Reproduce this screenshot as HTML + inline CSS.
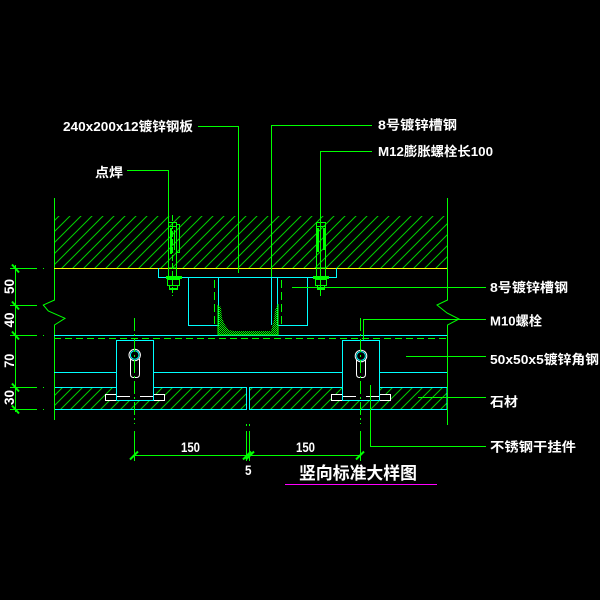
<!DOCTYPE html>
<html><head><meta charset="utf-8">
<style>html,body{margin:0;padding:0;background:#000;}svg{display:block}
text{font-family:"Liberation Sans","Noto Sans CJK SC",sans-serif;font-weight:bold;fill:#fff;}
</style></head>
<body>
<svg width="600" height="600" viewBox="0 0 600 600" xmlns="http://www.w3.org/2000/svg">
<defs>
<pattern id="h" patternUnits="userSpaceOnUse" width="11" height="11">
<path d="M0,11 L11,0 M-1,1 L1,-1 M10,12 L12,10" stroke="#00d000" stroke-width="1"/>
</pattern>
<pattern id="h2" patternUnits="userSpaceOnUse" width="10" height="10">
<path d="M0,10 L10,0 M-1,1 L1,-1 M9,11 L11,9" stroke="#00d000" stroke-width="1"/>
</pattern>
<pattern id="ck" patternUnits="userSpaceOnUse" width="2" height="2">
<rect x="0" y="0" width="1" height="1" fill="#00ff00"/><rect x="1" y="1" width="1" height="1" fill="#00ff00"/>
</pattern>
</defs>
<rect width="600" height="600" fill="#000"/>

<!-- top hatched concrete -->
<rect x="54" y="216" width="393" height="52" fill="url(#h)"/>

<!-- stone bands -->
<rect x="54.5" y="387.5" width="192" height="22" fill="url(#h2)" stroke="#00ffff" stroke-width="1"/>
<rect x="249.5" y="387.5" width="197.5" height="22" fill="url(#h2)" stroke="#00ffff" stroke-width="1"/>

<g fill="none" stroke-width="1" shape-rendering="crispEdges">
<!-- main side lines with break -->
<path d="M54.5,198 V300 L43.3,305 L48.3,311 L65,318.3 L54.5,325 V420" stroke="#00ff00" shape-rendering="auto"/>
<path d="M447.5,198 V300 L437,305 L447,313 L459,319 L447.5,325 V425" stroke="#00ff00" shape-rendering="auto"/>
<!-- yellow -->
<path d="M54,268.5 H447" stroke="#ffff00"/>
<!-- plate -->
<path d="M158.5,268 V277.5 H336.5 V268" stroke="#00ffff"/>
<!-- channel -->
<path d="M188.5,277 V325.5 H218.5 V277" stroke="#00ffff"/>
<path d="M277.5,277 V325.5 H307.5 V277" stroke="#00ffff"/>
<path d="M271.5,277 V325" stroke="#00ffff"/>
<path d="M214.5,280 V325 M281.5,280 V325" stroke="#00ff00" stroke-dasharray="8,4"/>
<!-- lines -->
<path d="M54,335.5 H447" stroke="#00ffff"/>
<path d="M54,338.5 H447" stroke="#00ff00" stroke-dasharray="7,4"/>
<path d="M54,372.5 H116 M153,372.5 H342 M379,372.5 H447" stroke="#00ffff"/>
</g>

<!-- U channel -->
<path d="M218,305 L221,307 L222,318 L225,325 L229,330 L234,331 L271,331 L274,320 L275,310 L278,304 L278,335 L218,335 Z" fill="url(#ck)"/>
<path d="M218,305 L218,335 L278,335 L278,304" fill="none" stroke="#00ff00" stroke-width="1"/>

<!-- brackets -->
<g shape-rendering="crispEdges">
<rect x="105.5" y="394.5" width="59" height="6" fill="#000" stroke="#fff"/>
<rect x="116.5" y="340.5" width="37" height="60" fill="#000" stroke="#00ffff"/>
<path d="M117,396.5 H130 M140,396.5 H153" stroke="#fff"/>
<rect x="331.5" y="394.5" width="59" height="6" fill="#000" stroke="#fff"/>
<rect x="342.5" y="340.5" width="37" height="60" fill="#000" stroke="#00ffff"/>
<path d="M343,396.5 H356 M366,396.5 H379" stroke="#fff"/>
</g>
<!-- slots -->
<g fill="none" stroke-width="1">
<path d="M130.5,359 V374 Q130.5,377.5 133.5,377.5 H136.5 Q139.5,377.5 139.5,374 V359" stroke="#fff"/>
<circle cx="134.7" cy="355" r="5.7" stroke="#fff"/>
<circle cx="134.7" cy="355" r="4.3" stroke="#00ffff"/>
<path d="M356.5,360 V374 Q356.5,377.5 359.5,377.5 H362.5 Q365.5,377.5 365.5,374 V360" stroke="#fff"/>
<circle cx="361" cy="356" r="5.8" stroke="#fff"/>
<circle cx="361" cy="356" r="4.4" stroke="#00ffff"/>
</g>

<!-- centerlines -->
<g stroke="#00ff00" stroke-width="1" fill="none" shape-rendering="crispEdges">
<path d="M134.5,318 V424" stroke-dasharray="13,3,2,3"/>
<path d="M134.5,431 V461"/>
<path d="M360.5,318 V424" stroke-dasharray="13,3,2,3"/>
<path d="M360.5,431 V461"/>
<path d="M246.5,431 V461 M249.5,431 V461"/>
<path d="M246.5,424 V426 M249.5,424 V426"/>
<!-- bottom dim line -->
<path d="M134,455.5 H360"/>
<!-- left dim line -->
<path d="M15.5,265 V412"/>
<path d="M10,268.5 H37 M10,305.5 H37 M10,335.5 H37 M10,387.5 H37 M10,409.5 H37"/>
<path d="M43,268.5 h1 M43,305.5 h1 M43,335.5 h1 M43,387.5 h1 M43,409.5 h1"/>
</g>
<!-- ticks -->
<g stroke="#00ff00" stroke-width="2">
<path d="M130,459.5 L138,451.5 M243,459.5 L251,451.5 M246,459.5 L254,451.5 M356,459.5 L364,451.5"/>
<path d="M12,264.5 L19,272.5 M12,301.5 L19,309.5 M12,331.5 L19,339.5 M12,383.5 L19,391.5 M12,405.5 L19,413.5"/>
</g>

<!-- bolts -->
<g stroke="#00ff00" fill="none" stroke-width="1" shape-rendering="crispEdges">
<!-- left bolt cx=172.5 -->
<rect x="168.5" y="226.5" width="8" height="41.5"/>
<rect x="168.5" y="222.5" width="8" height="4"/>
<rect x="176.5" y="224.5" width="3" height="28"/>
<path d="M168.5,268 V277 M176.5,268 V277"/>
<rect x="167.5" y="279.5" width="12" height="6"/>
<rect x="169.5" y="285.5" width="8" height="4"/>
<path d="M172.5,215 V296" stroke-dasharray="6,2"/>
<!-- right bolt cx=320.5 -->
<rect x="316.5" y="226.5" width="9" height="41.5"/>
<rect x="316.5" y="222.5" width="9" height="4"/>
<path d="M316.5,268 V277 M325.5,268 V277"/>
<rect x="315.5" y="279.5" width="11" height="6"/>
<rect x="317.5" y="285.5" width="7" height="4"/>
</g>
<g fill="#00ff00" shape-rendering="crispEdges">
<rect x="170" y="228" width="2" height="26"/>
<rect x="174" y="230" width="1" height="20"/>
<rect x="166" y="276" width="16" height="3"/>
<rect x="169" y="288" width="9" height="2"/>
<rect x="317" y="228" width="2" height="24"/>
<rect x="323" y="228" width="2" height="22"/>
<rect x="313" y="276" width="16" height="3"/>
<rect x="317" y="288" width="8" height="2"/>
</g>

<!-- leaders -->
<g stroke="#00ff00" stroke-width="1" fill="none" shape-rendering="crispEdges">
<path d="M198,126.5 H238.5 V273"/>
<path d="M127,170.5 H168.5 V280"/>
<path d="M372,125.5 H271.5 V277"/>
<path d="M372,151.5 H320.5 V296"/>
<path d="M292,287.5 H486"/>
<path d="M363.5,340 V319.5 H486"/>
<path d="M406,356.5 H486"/>
<path d="M418,397.5 H486"/>
<path d="M370.5,385 V446.5 H486"/>
</g>

<!-- labels -->
<text x="63" y="131" font-size="13" textLength="130" lengthAdjust="spacingAndGlyphs">240x200x12镀锌钢板</text>
<text x="95" y="177" font-size="13" textLength="28" lengthAdjust="spacingAndGlyphs">点焊</text>
<text x="378" y="129.5" font-size="13" textLength="79" lengthAdjust="spacingAndGlyphs">8号镀锌槽钢</text>
<text x="378" y="156" font-size="13" textLength="115" lengthAdjust="spacingAndGlyphs">M12膨胀螺栓长100</text>
<text x="490" y="292" font-size="13" textLength="78" lengthAdjust="spacingAndGlyphs">8号镀锌槽钢</text>
<text x="490" y="325.5" font-size="13" textLength="52" lengthAdjust="spacingAndGlyphs">M10螺栓</text>
<text x="490" y="364" font-size="13" textLength="109" lengthAdjust="spacingAndGlyphs">50x50x5镀锌角钢</text>
<text x="490" y="406.5" font-size="13" textLength="28" lengthAdjust="spacingAndGlyphs">石材</text>
<text x="490" y="451.5" font-size="13" textLength="86" lengthAdjust="spacingAndGlyphs">不锈钢干挂件</text>

<text x="181" y="452" font-size="14" textLength="19" lengthAdjust="spacingAndGlyphs">150</text>
<text x="296" y="452" font-size="14" textLength="19" lengthAdjust="spacingAndGlyphs">150</text>
<text x="245" y="475" font-size="14" textLength="6.5" lengthAdjust="spacingAndGlyphs">5</text>

<text x="10" y="290.5" font-size="14" text-anchor="middle" textLength="15" lengthAdjust="spacingAndGlyphs" transform="rotate(-90 10 286.5)">50</text>
<text x="10" y="324" font-size="14" text-anchor="middle" textLength="15" lengthAdjust="spacingAndGlyphs" transform="rotate(-90 10 320)">40</text>
<text x="10" y="364.7" font-size="14" text-anchor="middle" textLength="14" lengthAdjust="spacingAndGlyphs" transform="rotate(-90 10 360.7)">70</text>
<text x="10" y="401.5" font-size="14" text-anchor="middle" textLength="15" lengthAdjust="spacingAndGlyphs" transform="rotate(-90 10 397.5)">30</text>

<text x="299" y="479" font-size="17" textLength="118" lengthAdjust="spacingAndGlyphs">竖向标准大样图</text>
<path d="M285,484.5 H437" stroke="#ff00ff" stroke-width="1" shape-rendering="crispEdges"/>
</svg>
</body></html>
